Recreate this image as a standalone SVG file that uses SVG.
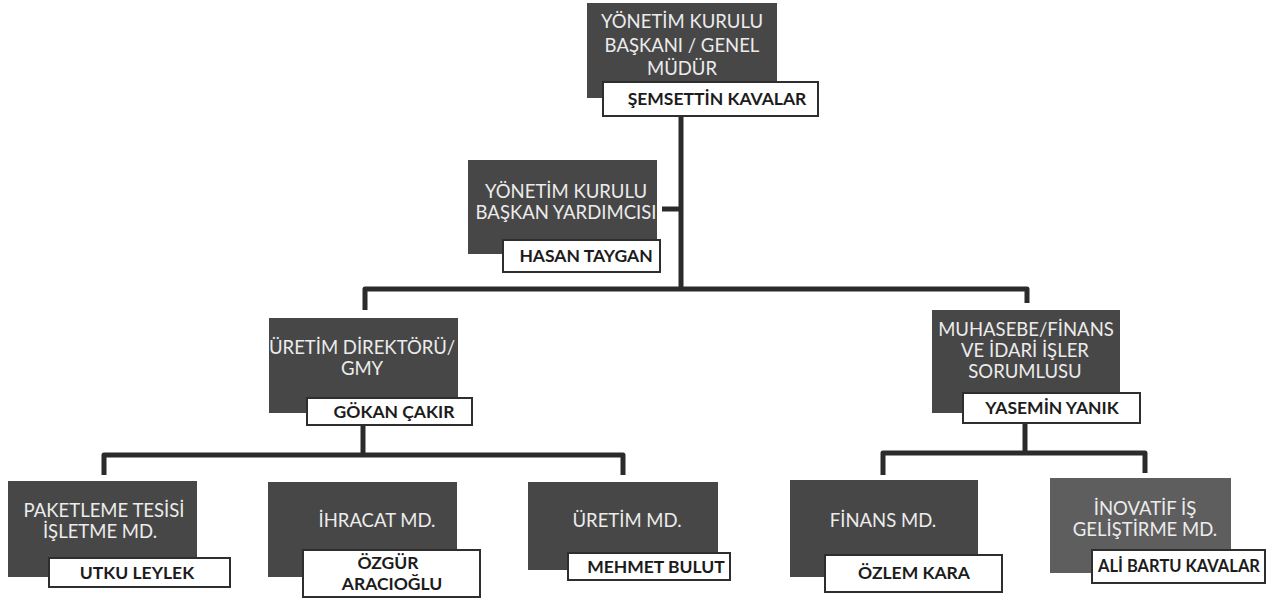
<svg xmlns="http://www.w3.org/2000/svg" width="1286" height="601" viewBox="0 0 1286 601">
<style>
.bx{fill:#474747}
.bx2{fill:#5e5e5e}
.nm{fill:#ffffff;stroke:#2e2e2e;stroke-width:2}
.t{font-family:Lato,"Open Sans",sans-serif;font-size:18.5px;fill:#ececec;text-anchor:middle}
.n{font-family:Lato,"Open Sans",sans-serif;font-size:17.5px;font-weight:bold;fill:#1c1c1c;text-anchor:middle}
.c{fill:none;stroke:#2b2b2b;stroke-width:5;stroke-linejoin:round;stroke-linecap:butt}
</style>
<rect width="1286" height="601" fill="#ffffff"/>
<g id="connectors">
<path class="c" d="M681,116 V289"/>
<path class="c" d="M662,209 H681"/>
<path class="c" d="M365,310 V289 H1027 V303"/>
<path class="c" d="M363,425 V455"/>
<path class="c" d="M104,475 V455 H623 V475"/>
<path class="c" d="M1025,423 V453"/>
<path class="c" d="M883,475 V453 H1145 V473"/>
</g>
<g id="node-baskan">
<rect class="bx" x="587" y="3" width="190" height="95"/>
<text class="t" x="682" y="28">YÖNETİM KURULU</text>
<text class="t" x="682" y="52">BAŞKANI / GENEL</text>
<text class="t" x="682" y="75">MÜDÜR</text>
<rect class="nm" x="603" y="82" width="215" height="34"/>
<text class="n" x="717" y="105">ŞEMSETTİN KAVALAR</text>
</g>
<g id="node-yardimci">
<rect class="bx" x="468" y="160" width="189" height="94"/>
<text class="t" x="566" y="198">YÖNETİM KURULU</text>
<text class="t" x="566" y="219">BAŞKAN YARDIMCISI</text>
<rect class="nm" x="503" y="240" width="157" height="32"/>
<text class="n" x="586" y="262">HASAN TAYGAN</text>
</g>
<g id="node-uretim-direktoru">
<rect class="bx" x="269" y="318" width="189" height="95"/>
<text class="t" x="362" y="354">ÜRETİM DİREKTÖRÜ/</text>
<text class="t" x="362" y="375">GMY</text>
<rect class="nm" x="307" y="398" width="165" height="27"/>
<text class="n" x="394" y="418">GÖKAN ÇAKIR</text>
</g>
<g id="node-muhasebe">
<rect class="bx" x="932" y="310" width="188" height="103"/>
<text class="t" x="1026" y="336">MUHASEBE/FİNANS</text>
<text class="t" x="1025" y="357">VE İDARİ İŞLER</text>
<text class="t" x="1025" y="378">SORUMLUSU</text>
<rect class="nm" x="963" y="393" width="177" height="30"/>
<text class="n" x="1052" y="414">YASEMİN YANIK</text>
</g>
<g id="node-paketleme">
<rect class="bx" x="8" y="481" width="189" height="96"/>
<text class="t" x="104" y="517">PAKETLEME TESİSİ</text>
<text class="t" x="100" y="538">İŞLETME MD.</text>
<rect class="nm" x="49" y="558" width="181" height="29"/>
<text class="n" x="137" y="579">UTKU LEYLEK</text>
</g>
<g id="node-ihracat">
<rect class="bx" x="268" y="482" width="189" height="95"/>
<text class="t" x="377" y="527">İHRACAT MD.</text>
<rect class="nm" x="303" y="550" width="177" height="47"/>
<text class="n" x="388" y="569">ÖZGÜR</text>
<text class="n" x="392" y="590">ARACIOĞLU</text>
</g>
<g id="node-uretim-md">
<rect class="bx" x="528" y="482" width="190" height="88"/>
<text class="t" x="627" y="527">ÜRETİM MD.</text>
<rect class="nm" x="568" y="553" width="162" height="27"/>
<text class="n" x="656" y="573">MEHMET BULUT</text>
</g>
<g id="node-finans">
<rect class="bx" x="790" y="480" width="188" height="97"/>
<text class="t" x="883" y="527">FİNANS MD.</text>
<rect class="nm" x="825" y="555" width="177" height="37"/>
<text class="n" x="914" y="579">ÖZLEM KARA</text>
</g>
<g id="node-inovatif">
<rect class="bx2" x="1050" y="478" width="181" height="95"/>
<text class="t" x="1145" y="515">İNOVATİF İŞ</text>
<text class="t" x="1145" y="536">GELİŞTİRME MD.</text>
<rect class="nm" x="1092" y="550" width="173" height="33"/>
<text class="n" x="1179" y="572" style="font-size:16.5px">ALİ BARTU KAVALAR</text>
</g>
</svg>
